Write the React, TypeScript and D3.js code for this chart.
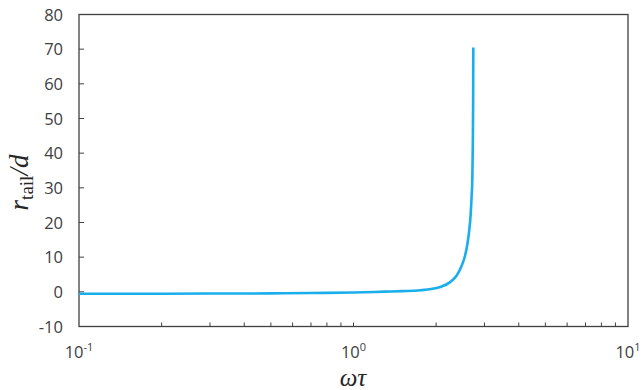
import React, { useEffect, useRef } from 'react';
import * as d3 from 'd3';

// omega*tau values
const omegaTau: number[] = [
  0.1, 0.2, 0.3, 0.5, 0.7, 1.0, 1.3, 1.5, 1.75, 2.07, 2.25, 2.38, 2.48, 2.55, 2.6, 2.64, 2.67, 2.695, 2.71, 2.72,
  2.728, 2.732,
];
// r_tail / d
const rTail: number[] = [
  -0.55, -0.55, -0.5, -0.45, -0.35, -0.2, 0.05, 0.2, 0.45, 1.4, 2.8, 4.8, 7.6, 10.5, 13.8, 17.7, 22, 28, 33, 42, 55,
  70.5,
];

const yTicks: number[] = [-10, 0, 10, 20, 30, 40, 50, 60, 70, 80];
const xMajor: number[] = [0.1, 1, 10];
const xExponents: string[] = ['-1', '0', '1'];
const xMinor: number[] = [0.2, 0.3, 0.4, 0.5, 0.6, 0.7, 0.8, 0.9, 1, 2, 3, 4, 5, 6, 7, 8, 9];

const App: React.FC = () => {
  const svgRef = useRef<SVGSVGElement>(null);

  useEffect(() => {
    if (!svgRef.current) return;
    const svg = d3.select(svgRef.current);
    svg.selectAll('*').remove();

    const left = 79;
    const right = 628;
    const top = 14.5;
    const bottom = 326.5;

    const x = d3.scaleLog().domain([0.1, 10]).range([left, right]);
    const y = d3.scaleLinear().domain([-10, 80]).range([bottom, top]);

    const axisColor = '#404040';
    const tickFont = "'Open Sans', 'Noto Sans', sans-serif";
    const serif = "'Liberation Serif', 'DejaVu Serif', serif";

    // frame
    svg
      .append('rect')
      .attr('x', left)
      .attr('y', top)
      .attr('width', right - left)
      .attr('height', bottom - top)
      .attr('fill', 'none')
      .attr('stroke', axisColor)
      .attr('stroke-width', 1.3);

    // y ticks (inside)
    svg
      .append('g')
      .selectAll('line')
      .data(yTicks.slice(1, -1))
      .join('line')
      .attr('x1', left)
      .attr('x2', left + 5)
      .attr('y1', d => y(d))
      .attr('y2', d => y(d))
      .attr('stroke', axisColor)
      .attr('stroke-width', 1);

    svg
      .append('g')
      .selectAll('text')
      .data(yTicks)
      .join('text')
      .attr('x', 63)
      .attr('y', d => y(d) + 6)
      .attr('text-anchor', 'end')
      .attr('font-family', tickFont)
      .attr('font-size', 16.5)
      .attr('fill', '#404040')
      .text(d => String(d));

    // x minor ticks (inside)
    svg
      .append('g')
      .selectAll('line')
      .data(xMinor)
      .join('line')
      .attr('x1', d => x(d))
      .attr('x2', d => x(d))
      .attr('y1', bottom)
      .attr('y2', bottom - 4)
      .attr('stroke', axisColor)
      .attr('stroke-width', 1);

    // x labels 10^n
    const xl = svg
      .append('g')
      .selectAll('text')
      .data(xMajor)
      .join('text')
      .attr('x', d => x(d))
      .attr('y', 358)
      .attr('text-anchor', 'middle')
      .attr('font-family', tickFont)
      .attr('font-size', 16.5)
      .attr('fill', '#404040');
    xl.append('tspan').text('10');
    xl.append('tspan')
      .attr('dy', -7)
      .attr('font-size', 11)
      .text((d, i) => xExponents[i]);

    // curve
    const line = d3
      .line<number>()
      .x((d, i) => x(omegaTau[i]))
      .y(d => y(d))
      .curve(d3.curveMonotoneX);

    svg
      .append('path')
      .datum(rTail)
      .attr('fill', 'none')
      .attr('stroke', '#1AAEEB')
      .attr('stroke-width', 2.6)
      .attr('d', line);

    // x title
    svg
      .append('text')
      .attr('x', 353)
      .attr('y', 386)
      .attr('text-anchor', 'middle')
      .attr('font-family', serif)
      .attr('font-style', 'italic')
      .attr('font-size', 25)
      .attr('fill', '#262626')
      .text('ωτ');

    // y title
    const yt = svg
      .append('text')
      .attr('transform', 'translate(28, 182.5) rotate(-90)')
      .attr('text-anchor', 'middle')
      .attr('font-family', serif)
      .attr('font-size', 27)
      .attr('fill', '#262626');
    yt.append('tspan').attr('font-style', 'italic').text('r');
    yt.append('tspan').attr('font-size', 19).attr('dy', 5).text('tail');
    yt.append('tspan').attr('dy', -5).attr('font-style', 'italic').text('/d');
  }, []);

  return (
    <svg
      ref={svgRef}
      width={642}
      height={390}
      style={{ position: 'absolute', left: 0, top: 0, background: '#fff' }}
    />
  );
};

export default App;
